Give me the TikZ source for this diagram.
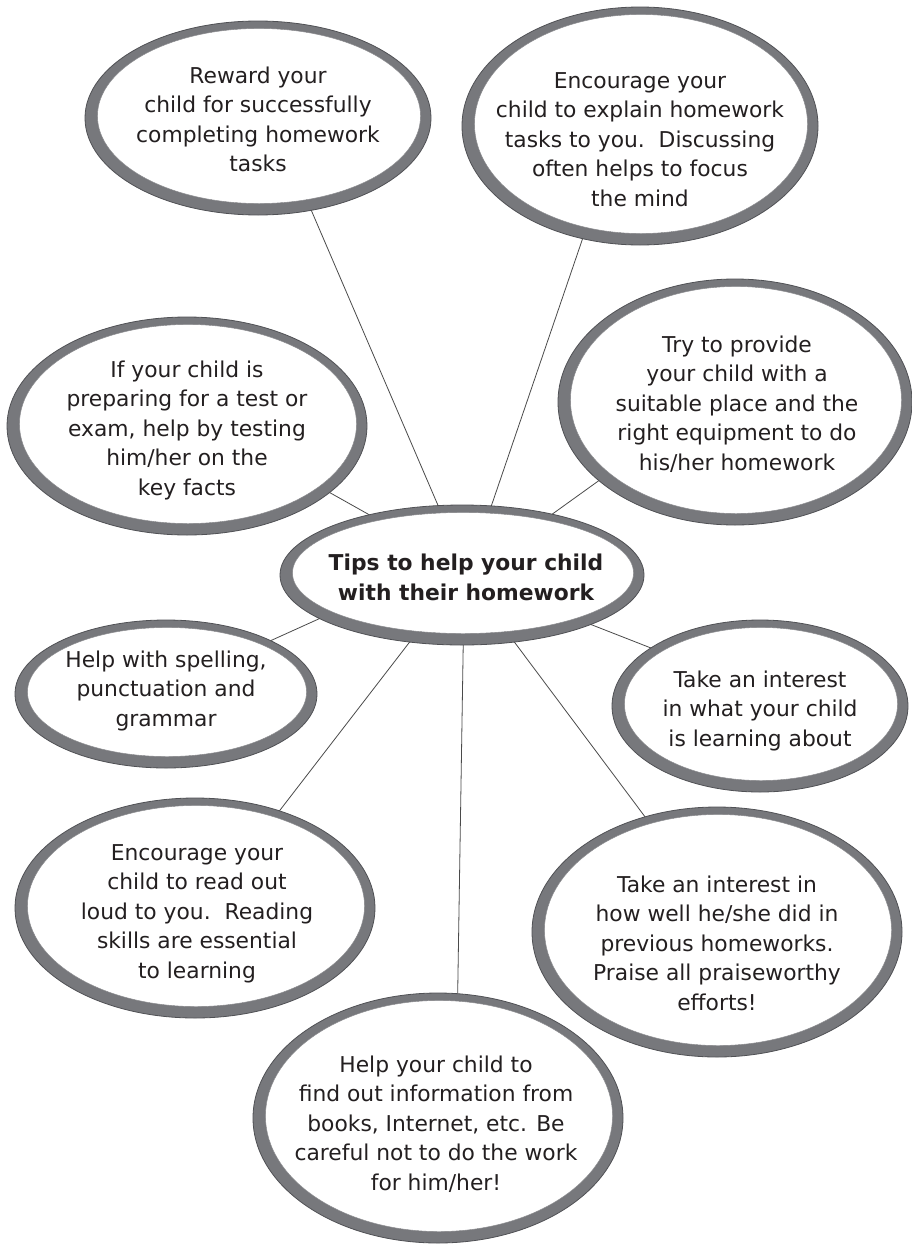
\documentclass[tikz,border=0pt]{standalone}
\usepackage{fontspec}
\setmainfont{DejaVu Sans}
\usetikzlibrary{shapes.geometric,calc}
\definecolor{ringgray}{HTML}{77787C}
\definecolor{ringedge}{HTML}{505155}
\definecolor{inktext}{HTML}{231F20}
\definecolor{linkline}{HTML}{4A4A4A}
\tikzset{
  bubble/.style={ellipse, inner sep=0pt, outer sep=0pt, fill=ringgray,
    draw=ringedge, line width=0.8pt,
    path picture={\fill[white, draw=ringedge!70, line width=0.4pt]
      let \p1=(path picture bounding box.north east),
          \p2=(path picture bounding box.center) in
      (\x2+1pt,\y2+2pt) ellipse ({\x1-\x2-11.5pt} and {\y1-\y2-9.5pt});}},
  % texts are placed by the baseline of their last line
  tip/.style={anchor=base, align=center, inner sep=0pt, text=inktext,
    font=\fontsize{21.8}{29.5}\selectfont},
  link/.style={draw=linkline, line width=0.8pt}
}
\begin{document}
\begin{tikzpicture}[x=1pt,y=-1pt]
\fill[white] (0,0) rectangle (912,1245);
\useasboundingbox (0,0) rectangle (912,1245);

% rings
\node[bubble, minimum width=346pt, minimum height=194pt] (reward)   at (258,118)  {};
\node[bubble, minimum width=356pt, minimum height=238pt] (explain)  at (640,126)  {};
\node[bubble, minimum width=360pt, minimum height=218pt] (test)     at (187,426)  {};
\node[bubble, minimum width=354pt, minimum height=246pt] (place)    at (735,402)  {};
\node[bubble, minimum width=364pt, minimum height=140pt] (main)     at (462,575)  {};
\node[bubble, minimum width=302pt, minimum height=148pt] (spelling) at (166,694)  {};
\node[bubble, minimum width=296pt, minimum height=172pt] (interest) at (760,706)  {};
\node[bubble, minimum width=360pt, minimum height=220pt] (read)     at (195,908)  {};
\node[bubble, minimum width=370pt, minimum height=250pt] (previous) at (717,932)  {};
\node[bubble, minimum width=370pt, minimum height=250pt] (find)     at (438,1118) {};

% spokes from the central bubble
\draw[link] (reward.300)   -- (main.109);
\draw[link] (explain.243)  -- (main.67);
\draw[link] (test.335)     -- (main.147);
\draw[link] (place.210)    -- (main.34);
\draw[link] (spelling.27)  -- (main.197);
\draw[link] (interest.152) -- (main.339);
\draw[link] (read.49)      -- (main.232);
\draw[link] (previous.122) -- (main.308);
\draw[link] (find.81)      -- (main.271);

% texts
\node[tip] (reward-t) at (258,171.5) {Reward your\\child for successfully\\completing homework\\tasks};
\node[tip] (explain-t) at (640,206) {Encourage your\\child to explain homework\\tasks to you.~~Discussing\\often helps to focus\\the mind};
\node[tip] (test-t) at (187,495) {If your child is\\preparing for a test or\\exam, help by testing\\him/her on the\\key facts};
\node[tip] (place-t) at (737,470) {Try to provide\\your child with a\\suitable place and the\\right equipment to do\\his/her homework};
\node[tip, font=\fontsize{21.8}{30}\selectfont\bfseries] (main-t) at (466,600) {Tips to help your child\\with their homework};
\node[tip] (spelling-t) at (166,726) {Help with spelling,\\punctuation and\\grammar};
\node[tip] (interest-t) at (760,746) {Take an interest\\in what your child\\is learning about};
\node[tip] (read-t) at (197,978) {Encourage your\\child to read out\\loud to you.~~Reading\\skills are essential\\to learning};
\node[tip] (previous-t) at (717,1010) {Take an interest in\\how well he/she did in\\previous homeworks.\\Praise all praiseworthy\\efforts!};
\node[tip] (find-t) at (436,1190) {Help your child to\\find out information from\\books, Internet, etc. Be\\careful not to do the work\\for him/her!};
\end{tikzpicture}
\end{document}
